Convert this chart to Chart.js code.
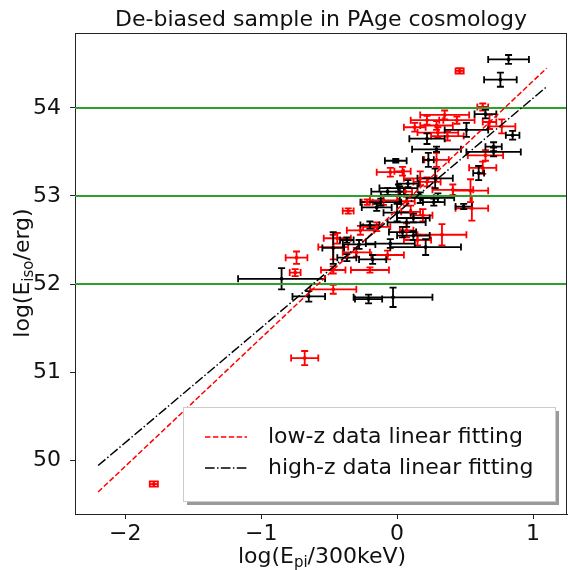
<!DOCTYPE html>
<html>
<head>
<meta charset="utf-8">
<script src="https://cdn.jsdelivr.net/npm/chart.js@4.4.0/dist/chart.umd.min.js"></script>
<style>
  body { margin: 0; background: #fff; overflow: hidden; }
  canvas { display: block; }
</style>
</head>
<body>
<canvas id="chart" width="572" height="570"></canvas>
<script>
// low-z sample (red)
var lowX    = [-1.79, -0.68, -0.74, -0.75, -0.47, -0.20, 0.33, 0.46, 0.63, 0.77, 0.68, 0.65, 0.35, 0.22, 0.29, 0.44, 0.30, 0.37, 0.29, -0.05, 0.04, 0.63, 0.17, 0.54, 0.22, 0.55, -0.22, -0.36, 0.10, 0.19, -0.27, -0.15, 0.07, -0.47, -0.07, 0.06, 0.07, -0.47, -0.44, 0.41, 0.13, -0.10, 0.15, -0.30];
var lowY    = [49.73, 51.16, 52.30, 52.13, 51.94, 52.16, 52.56, 54.42, 54.01, 53.79, 53.84, 53.46, 53.92, 53.86, 53.80, 53.86, 53.72, 53.68, 53.41, 53.27, 53.28, 53.32, 53.20, 53.06, 53.16, 52.86, 52.93, 52.83, 52.82, 52.78, 52.61, 52.65, 52.61, 52.42, 52.33, 53.05, 52.94, 52.16, 52.52, 53.07, 53.78, 52.95, 52.50, 52.36];
var lowXErr = [0.03, 0.10, 0.08, 0.04, 0.17, 0.14, 0.18, 0.03, 0.04, 0.10, 0.05, 0.13, 0.18, 0.12, 0.12, 0.13, 0.15, 0.12, 0.09, 0.10, 0.06, 0.10, 0.12, 0.13, 0.10, 0.12, 0.04, 0.04, 0.07, 0.07, 0.10, 0.10, 0.05, 0.11, 0.12, 0.05, 0.06, 0.09, 0.10, 0.15, 0.08, 0.10, 0.10, 0.10];
var lowYErr = [0.03, 0.08, 0.07, 0.04, 0.05, 0.03, 0.12, 0.03, 0.04, 0.08, 0.08, 0.06, 0.05, 0.05, 0.05, 0.04, 0.06, 0.05, 0.08, 0.05, 0.05, 0.07, 0.08, 0.13, 0.05, 0.14, 0.03, 0.03, 0.07, 0.07, 0.05, 0.05, 0.08, 0.14, 0.05, 0.04, 0.05, 0.04, 0.06, 0.06, 0.05, 0.05, 0.06, 0.05];

// high-z sample (black)
var highX    = [0.82, 0.76, -0.85, -0.03, -0.21, -0.65, -0.47, 0.65, 0.51, 0.22, 0.29, 0.71, 0.71, -0.01, 0.23, 0.60, 0.28, 0.01, 0.85, -0.07, 0.02, 0.17, -0.15, 0.00, 0.49, -0.20, 0.07, 0.04, -0.05, 0.21, -0.37, -0.18, -0.37, 0.08, 0.12, 0.27, -0.12, 0.12, -0.28, 0.30];
var highY    = [54.55, 54.32, 52.06, 51.85, 51.83, 51.86, 52.41, 53.93, 53.75, 53.65, 53.53, 53.56, 53.50, 53.40, 53.41, 53.26, 53.20, 53.09, 53.69, 53.05, 53.01, 52.98, 52.87, 52.81, 52.88, 52.67, 52.70, 52.59, 52.46, 52.42, 52.30, 52.28, 52.50, 53.14, 52.75, 52.93, 52.93, 52.55, 52.45, 52.98];
var highXErr = [0.15, 0.12, 0.32, 0.29, 0.10, 0.12, 0.08, 0.08, 0.16, 0.13, 0.18, 0.06, 0.20, 0.08, 0.04, 0.04, 0.13, 0.14, 0.05, 0.12, 0.14, 0.10, 0.11, 0.10, 0.06, 0.07, 0.14, 0.10, 0.18, 0.26, 0.07, 0.10, 0.05, 0.08, 0.12, 0.08, 0.15, 0.12, 0.12, 0.12];
var highYErr = [0.05, 0.08, 0.12, 0.11, 0.05, 0.06, 0.18, 0.05, 0.08, 0.06, 0.03, 0.05, 0.05, 0.02, 0.08, 0.08, 0.11, 0.04, 0.05, 0.04, 0.10, 0.06, 0.04, 0.10, 0.03, 0.04, 0.05, 0.06, 0.05, 0.09, 0.04, 0.05, 0.03, 0.04, 0.05, 0.04, 0.04, 0.05, 0.05, 0.05];

// linear fits: end points
var fitX     = [-2.2, 1.1];
var lowFitY  = [49.64, 54.45];
var highFitY = [49.94, 54.24];

// horizontal reference levels
var levels = [52, 53, 54];

var xTicks = [-2, -1, 0, 1];
var yTicks = [50, 51, 52, 53, 54];
var xRange = [-2.37, 1.25];
var yRange = [49.39, 54.85];

var FONT = 'DejaVu Sans';

function toPoints(xs, ys) {
    return xs.map(function (x, i) { return { x: x, y: ys[i] }; });
}

function fmt(v) {
    return (v < 0 ? '\u2212' : '') + Math.abs(v);
}

var datasets = [];

datasets.push({
    label: 'low-z',
    data: toPoints(lowX, lowY),
    xErr: lowXErr, yErr: lowYErr,
    backgroundColor: 'red', borderColor: 'red',
    pointRadius: 1.5, order: 5
});
datasets.push({
    label: 'high-z',
    data: toPoints(highX, highY),
    xErr: highXErr, yErr: highYErr,
    backgroundColor: 'black', borderColor: 'black',
    pointRadius: 1.5, order: 4
});

levels.forEach(function (lv) {
    datasets.push({
        data: [{ x: xRange[0], y: lv }, { x: xRange[1], y: lv }],
        showLine: true, borderColor: '#2ca02c', borderWidth: 2,
        pointRadius: 0, order: 3
    });
});

datasets.push({
    data: toPoints(fitX, lowFitY),
    showLine: true, borderColor: 'red', borderWidth: 1.5,
    borderDash: [5.5, 2.4], pointRadius: 0, order: 2
});
datasets.push({
    data: toPoints(fitX, highFitY),
    showLine: true, borderColor: 'black', borderWidth: 1.5,
    borderDash: [9.6, 2.4, 1.5, 2.4], pointRadius: 0, order: 1
});

// error bars under everything else
var errorBars = {
    id: 'errorBars',
    beforeDatasetsDraw: function (chart) {
        var ctx = chart.ctx;
        var xs = chart.scales.x, ys = chart.scales.y;
        var a = chart.chartArea;
        var cap = 3.5;
        ctx.save();
        ctx.beginPath();
        ctx.rect(a.left, a.top, a.right - a.left, a.bottom - a.top);
        ctx.clip();
        ctx.lineWidth = 1.8;
        chart.data.datasets.forEach(function (ds) {
            if (!ds.xErr) return;
            ctx.strokeStyle = ds.borderColor;
            ds.data.forEach(function (p, i) {
                var px = xs.getPixelForValue(p.x), py = ys.getPixelForValue(p.y);
                var x0 = xs.getPixelForValue(p.x - ds.xErr[i]);
                var x1 = xs.getPixelForValue(p.x + ds.xErr[i]);
                var y0 = ys.getPixelForValue(p.y - ds.yErr[i]);
                var y1 = ys.getPixelForValue(p.y + ds.yErr[i]);
                ctx.beginPath();
                ctx.moveTo(x0, py); ctx.lineTo(x1, py);
                ctx.moveTo(px, y0); ctx.lineTo(px, y1);
                ctx.moveTo(x0, py - cap); ctx.lineTo(x0, py + cap);
                ctx.moveTo(x1, py - cap); ctx.lineTo(x1, py + cap);
                ctx.moveTo(px - cap, y0); ctx.lineTo(px + cap, y0);
                ctx.moveTo(px - cap, y1); ctx.lineTo(px + cap, y1);
                ctx.stroke();
            });
        });
        ctx.restore();
    }
};

// frame, title, axis titles with subscripts, legend
var decorations = {
    id: 'decorations',
    afterDraw: function (chart) {
        var ctx = chart.ctx;
        var a = chart.chartArea;
        ctx.save();

        // top and right spines
        ctx.strokeStyle = '#222';
        ctx.lineWidth = 1;
        ctx.beginPath();
        ctx.moveTo(a.left, a.top + 0.5); ctx.lineTo(a.right, a.top + 0.5);
        ctx.moveTo(a.right - 0.5, a.top); ctx.lineTo(a.right - 0.5, a.bottom);
        ctx.stroke();

        ctx.fillStyle = '#111';
        ctx.textBaseline = 'alphabetic';

        // title
        ctx.font = '22px "' + FONT + '"';
        ctx.textAlign = 'center';
        ctx.fillText('De-biased sample in PAge cosmology', 321, 26);

        function subText(parts, cx, cy) {
            var big = '22px "' + FONT + '"', small = '15px "' + FONT + '"';
            var w = 0;
            parts.forEach(function (p) {
                ctx.font = p[1] ? small : big;
                w += ctx.measureText(p[0]).width;
            });
            var x = cx - w / 2;
            ctx.textAlign = 'left';
            parts.forEach(function (p) {
                ctx.font = p[1] ? small : big;
                ctx.fillText(p[0], x, cy + (p[1] ? 4 : 0));
                x += ctx.measureText(p[0]).width;
            });
        }

        // x title
        subText([['log(E', 0], ['pi', 1], ['/300keV)', 0]], 322, 563);

        // y title
        ctx.save();
        ctx.translate(29, 273);
        ctx.rotate(-Math.PI / 2);
        subText([['log(E', 0], ['iso', 1], ['/erg)', 0]], 0, 0);
        ctx.restore();

        // legend box
        var bx = 183, by = 407, bw = 372, bh = 94;
        ctx.fillStyle = '#9a9a9a';
        ctx.fillRect(bx + 4, by + 4, bw, bh);
        ctx.fillStyle = '#fff';
        ctx.fillRect(bx, by, bw, bh);
        ctx.strokeStyle = '#cccccc';
        ctx.strokeRect(bx + 0.5, by + 0.5, bw, bh);

        var rows = [
            { text: 'low-z data linear fitting', color: 'red', dash: [5.5, 2.4], y: 437 },
            { text: 'high-z data linear fitting', color: 'black', dash: [9.6, 2.4, 1.5, 2.4], y: 468 }
        ];
        rows.forEach(function (r) {
            ctx.strokeStyle = r.color;
            ctx.lineWidth = 1.5;
            ctx.setLineDash(r.dash);
            ctx.beginPath();
            ctx.moveTo(205, r.y); ctx.lineTo(247, r.y);
            ctx.stroke();
            ctx.setLineDash([]);
            ctx.fillStyle = '#111';
            ctx.font = '22px "' + FONT + '"';
            ctx.textAlign = 'left';
            ctx.textBaseline = 'middle';
            ctx.fillText(r.text, 268, r.y);
        });

        ctx.restore();
    }
};

var tickFont = { family: FONT, size: 22 };

new Chart(document.getElementById('chart').getContext('2d'), {
    type: 'scatter',
    data: { datasets: datasets },
    options: {
        responsive: false,
        animation: false,
        layout: { padding: { top: 33, right: 1, left: 0, bottom: 0 } },
        plugins: {
            legend: { display: false },
            tooltip: { enabled: false }
        },
        scales: {
            x: {
                type: 'linear',
                min: xRange[0], max: xRange[1],
                afterBuildTicks: function (s) { s.ticks = xTicks.map(function (v) { return { value: v }; }); },
                afterFit: function (s) { s.height = 56; },
                grid: { drawOnChartArea: false, drawTicks: true, tickLength: 5, color: '#222' },
                border: { color: '#222', width: 1 },
                ticks: { color: '#111', font: tickFont, padding: 2, maxRotation: 0, callback: fmt }
            },
            y: {
                type: 'linear',
                min: yRange[0], max: yRange[1],
                afterBuildTicks: function (s) { s.ticks = yTicks.map(function (v) { return { value: v }; }); },
                afterFit: function (s) { s.width = 75; },
                grid: { drawOnChartArea: false, drawTicks: true, tickLength: 5, color: '#222' },
                border: { color: '#222', width: 1 },
                ticks: { color: '#111', font: tickFont, padding: 9, callback: fmt }
            }
        }
    },
    plugins: [errorBars, decorations]
});
</script>
</body>
</html>
